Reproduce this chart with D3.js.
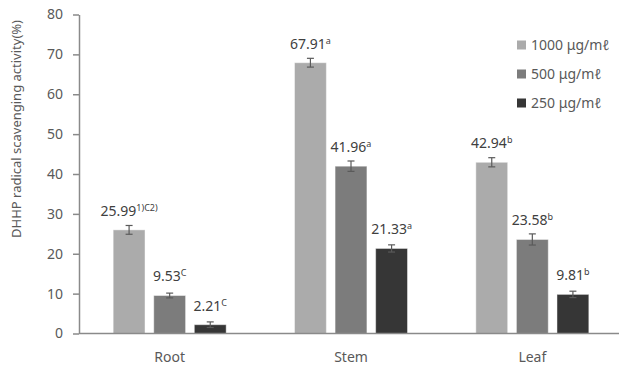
<!DOCTYPE html>
<html>
<head>
<meta charset="utf-8">
<script src="https://cdn.jsdelivr.net/npm/d3@7"></script>
<style>
  html, body { margin: 0; padding: 0; background: #fff; }
  svg { display: block; font-family: "Noto Sans", "Noto Sans CJK KR", sans-serif; }
</style>
</head>
<body>
<svg id="chart" width="619" height="367"></svg>
<script>
const categories = ["Root", "Stem", "Leaf"];
const series = ["1000 μg/mℓ", "500 μg/mℓ", "250 μg/mℓ"];
const values1000 = [25.99, 67.91, 42.94];
const values500 = [9.53, 41.96, 23.58];
const values250 = [2.21, 21.33, 9.81];
const errors1000 = [1.1, 1.1, 1.15];
const errors500 = [0.6, 1.3, 1.4];
const errors250 = [0.7, 0.9, 0.8];
const sup1000 = ["1)C2)", "a", "b"];
const sup500 = ["C", "a", "b"];
const sup250 = ["C", "a", "b"];
const yTicks = [0, 10, 20, 30, 40, 50, 60, 70, 80];
const colors = ["#ababab", "#7c7c7c", "#363636"];

const seriesValues = [values1000, values500, values250];
const seriesErrors = [errors1000, errors500, errors250];
const seriesSups = [sup1000, sup500, sup250];

const svg = d3.select("#chart");
const x0 = d3.scaleBand().domain(categories).range([79, 623]).padding(0);
const x1 = d3.scaleBand().domain(series).range([0, 113]).paddingInner(0.215).paddingOuter(0);
const y = d3.scaleLinear().domain([0, 80]).range([333.5, 14.5]);

const axisColor = "#8a8a8a";
const textColor = "#595959";

// Y axis
const yAxis = svg.append("g").attr("transform", "translate(79,0)")
  .call(d3.axisLeft(y).tickValues(yTicks).tickSize(6).tickPadding(10).tickSizeOuter(0));
yAxis.select(".domain").attr("stroke", axisColor).attr("stroke-width", 1.5);
yAxis.selectAll(".tick line").attr("stroke", axisColor).attr("stroke-width", 1.5);
yAxis.selectAll(".tick text").attr("fill", textColor).attr("font-size", 14)
  .attr("font-family", "Noto Sans, sans-serif");

// Bars
const data = [];
categories.forEach((c, ci) => {
  series.forEach((s, si) => {
    data.push({c, s, si, v: seriesValues[si][ci], e: seriesErrors[si][ci], sup: seriesSups[si][ci]});
  });
});
const bx = d => x0(d.c) + x0.bandwidth() / 2 - 56.5 + x1(d.s);

svg.append("g").selectAll("rect").data(data).join("rect")
  .attr("x", d => bx(d))
  .attr("y", d => y(d.v))
  .attr("width", x1.bandwidth())
  .attr("height", d => y(0) - y(d.v))
  .attr("fill", d => colors[d.si])
  .attr("stroke", "rgba(255,255,255,0.45)")
  .attr("stroke-width", 1);

// X axis
const xAxis = svg.append("g").attr("transform", "translate(0,333.5)")
  .call(d3.axisBottom(x0).tickSize(0).tickPadding(19).tickSizeOuter(0));
xAxis.select(".domain").attr("stroke", axisColor).attr("stroke-width", 1.5)
  .attr("d", "M79,0H619");
xAxis.selectAll(".tick text").attr("fill", textColor).attr("font-size", 14)
  .attr("font-family", "Noto Sans, sans-serif");

// Error bars
const eg = svg.append("g").attr("stroke", "#5a5a5a").attr("stroke-width", 1.2);
data.forEach(d => {
  const cx = bx(d) + x1.bandwidth() / 2;
  const yt = y(d.v + d.e), yb = y(d.v - d.e);
  eg.append("line").attr("x1", cx).attr("x2", cx).attr("y1", yt).attr("y2", yb);
  eg.append("line").attr("x1", cx - 3.5).attr("x2", cx + 3.5).attr("y1", yt).attr("y2", yt);
  eg.append("line").attr("x1", cx - 3.5).attr("x2", cx + 3.5).attr("y1", yb).attr("y2", yb);
});

// Data labels
const lg = svg.append("g");
data.forEach(d => {
  const cx = bx(d) + x1.bandwidth() / 2;
  const t = lg.append("text").attr("x", cx).attr("y", y(d.v) - 14)
    .attr("text-anchor", "middle").attr("fill", "#404040").attr("font-size", 14);
  t.append("tspan").text(d.v.toFixed(2));
  t.append("tspan").attr("font-size", 9).attr("dy", -5).text(d.sup);
});

// Y axis title
svg.append("text")
  .attr("transform", "translate(21,129) rotate(-90)")
  .attr("text-anchor", "middle").attr("fill", textColor).attr("font-size", 13)
  .text("DHHP radical scavenging activity(%)");

// Legend
const leg = svg.append("g");
series.forEach((s, i) => {
  const cy = 45 + i * 29;
  leg.append("rect").attr("x", 517).attr("y", cy - 4.5).attr("width", 9).attr("height", 9)
    .attr("fill", colors[i]);
  leg.append("text").attr("x", 531).attr("y", cy + 5).attr("fill", textColor)
    .attr("font-size", 14).text(s);
});
</script>
</body>
</html>
